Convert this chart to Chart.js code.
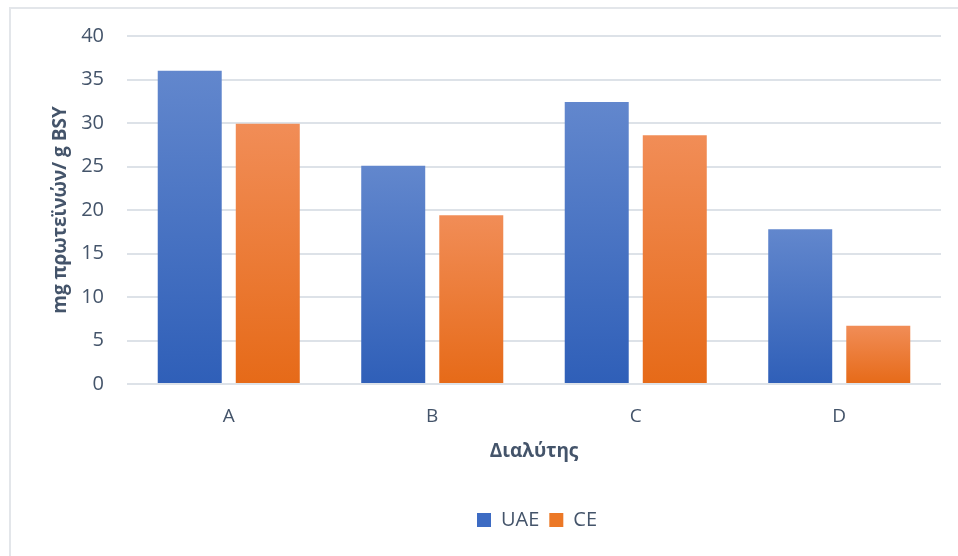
<!DOCTYPE html>
<html lang="el">
<head>
    <meta charset="UTF-8">
    <title>Πρωτεΐνες ανά διαλύτη</title>
    <style>
        body {
            margin: 0;
            background: #ffffff;
            font-family: 'Open Sans', sans-serif;
        }
        .frame {
            position: absolute;
            left: 9px;
            top: 7px;
            width: 1000px;
            height: 600px;
            border-top: 2px solid #e3e6ea;
            border-left: 2px solid #e3e6ea;
        }
        .chart-wrapper {
            position: absolute;
            left: 0;
            top: 0;
            width: 958px;
            height: 556px;
        }
    </style>
    <script src="https://cdn.jsdelivr.net/npm/chart.js"></script>
</head>
<body>
    <div class="frame"></div>
    <div class="chart-wrapper">
        <canvas id="barChart" width="958" height="556"></canvas>
    </div>

    <script>
        const categories = ['A', 'B', 'C', 'D'];
        const uaeValues = [36.0, 25.1, 32.4, 17.8];
        const ceValues = [29.9, 19.4, 28.6, 6.7];
        const yTicks = [0, 5, 10, 15, 20, 25, 30, 35, 40];

        const textColor = '#44546a';
        const gridColor = '#dde2e8';

        // vertical gradient per bar, lighter at the top
        function barFill(top, bottom) {
            return function(ctx) {
                const chart = ctx.chart;
                if (!chart.chartArea || !ctx.parsed) return bottom;
                const y = chart.scales.y;
                const y0 = y.getPixelForValue(ctx.parsed.y);
                const y1 = y.getPixelForValue(0);
                const g = chart.ctx.createLinearGradient(0, y0, 0, y1);
                g.addColorStop(0, top);
                g.addColorStop(1, bottom);
                return g;
            };
        }

        // legend in the original sits a bit right of the canvas centre
        const legendShift = {
            id: 'legendShift',
            afterLayout: function(chart) {
                chart.legend.left += 44;
                chart.legend.right += 44;
            }
        };

        const barCtx = document.getElementById('barChart').getContext('2d');
        const barChart = new Chart(barCtx, {
            type: 'bar',
            data: {
                labels: categories,
                datasets: [{
                    label: 'UAE',
                    data: uaeValues,
                    backgroundColor: barFill('#6287cd', '#2f5fb8'),
                    categoryPercentage: 0.767,
                    barPercentage: 0.82
                }, {
                    label: 'CE',
                    data: ceValues,
                    backgroundColor: barFill('#f18d57', '#e66a18'),
                    categoryPercentage: 0.767,
                    barPercentage: 0.82
                }]
            },
            plugins: [legendShift],
            options: {
                responsive: false,
                animation: false,
                layout: {
                    padding: { left: 45, right: 17, top: 36, bottom: 16 }
                },
                scales: {
                    x: {
                        grid: { display: false, drawTicks: false },
                        border: { display: false },
                        ticks: {
                            color: textColor,
                            padding: 21,
                            font: { family: 'Open Sans', size: 19 }
                        },
                        title: {
                            display: true,
                            text: 'Διαλύτης',
                            color: textColor,
                            padding: { top: 4, bottom: 37 },
                            font: { family: 'Open Sans', size: 19, weight: 'bold' }
                        },
                        afterFit: function(scale) { scale.height = 116; }
                    },
                    y: {
                        min: 0,
                        max: 40,
                        afterBuildTicks: function(scale) {
                            scale.ticks = yTicks.map(function(v) { return { value: v }; });
                        },
                        grid: { color: gridColor, lineWidth: 2, drawTicks: false },
                        border: { display: false },
                        ticks: {
                            color: textColor,
                            padding: 23,
                            font: { family: 'Open Sans', size: 20 }
                        },
                        title: {
                            display: true,
                            text: 'mg πρωτεϊνών/ g BSY',
                            color: textColor,
                            padding: { top: 4, bottom: 4 },
                            font: { family: 'Open Sans', size: 19, weight: 'bold' }
                        },
                        afterFit: function(scale) { scale.width = 82; }
                    }
                },
                plugins: {
                    legend: {
                        position: 'bottom',
                        labels: {
                            color: textColor,
                            boxWidth: 14,
                            boxHeight: 14,
                            padding: 10,
                            font: { family: 'Open Sans', size: 20 },
                            generateLabels: function(chart) {
                                const solid = ['#3d6bc3', '#ec7826'];
                                return chart.data.datasets.map(function(ds, i) {
                                    return {
                                        text: ds.label,
                                        fillStyle: solid[i],
                                        strokeStyle: solid[i],
                                        lineWidth: 0,
                                        fontColor: textColor,
                                        datasetIndex: i
                                    };
                                });
                            }
                        }
                    },
                    tooltip: { enabled: false }
                }
            }
        });
    </script>
</body>
</html>
